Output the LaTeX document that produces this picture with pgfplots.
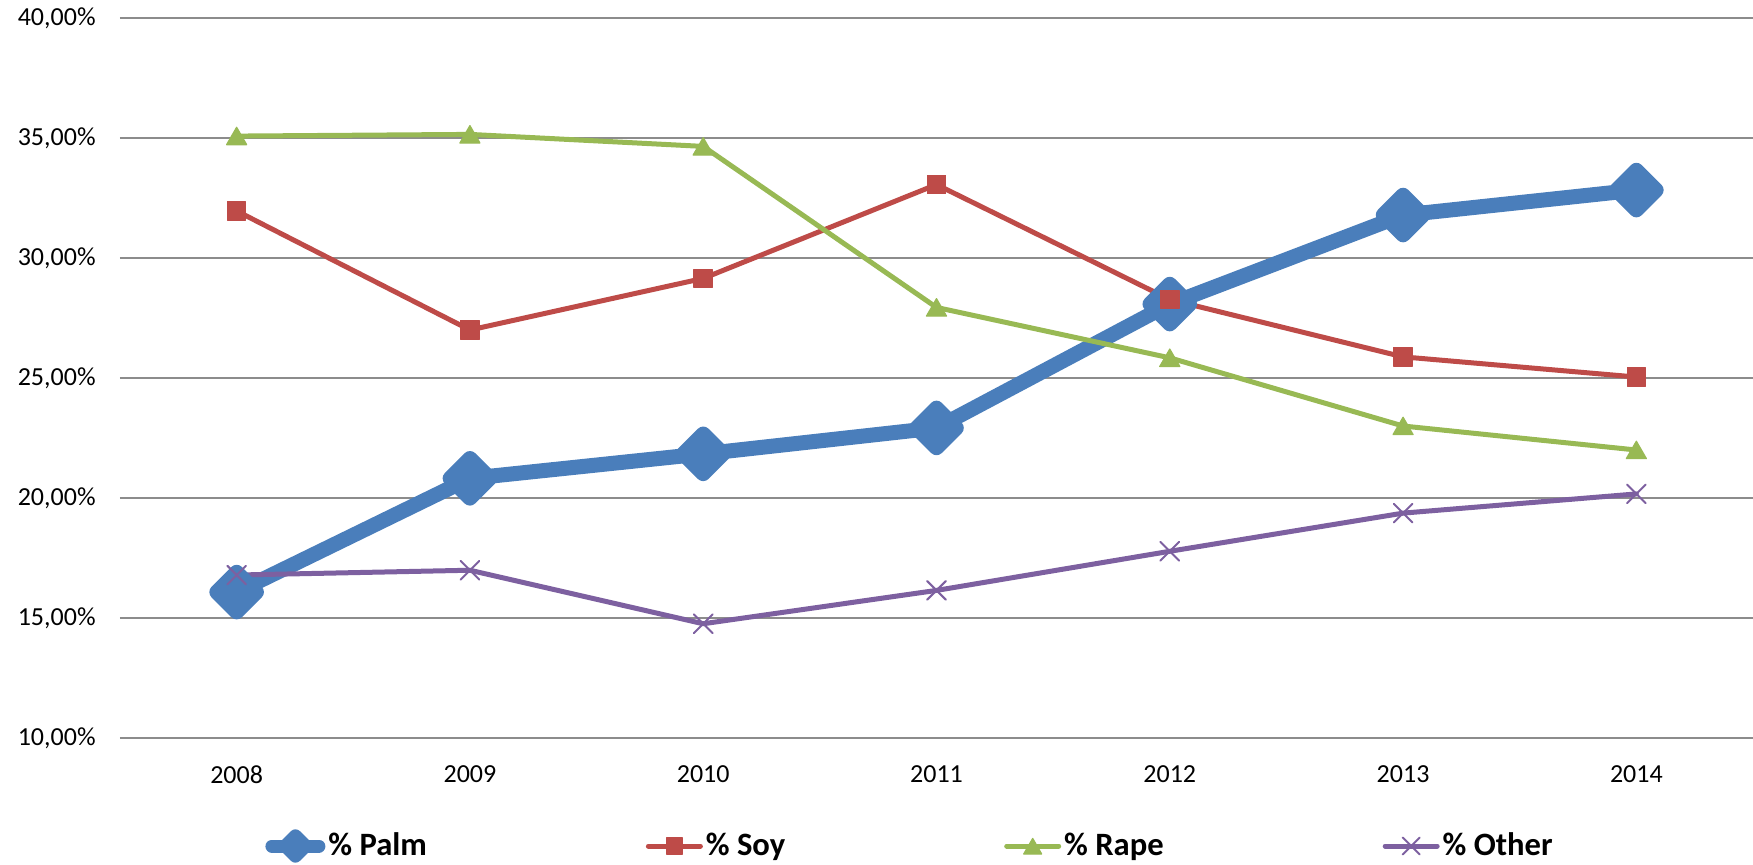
\documentclass[border=0pt]{standalone}
\usepackage{pgfplots}
\pgfplotsset{compat=1.18}
\usepackage{fontspec}
\setmainfont{Carlito}

\definecolor{palm}{HTML}{4A7EBB}
\definecolor{soy}{HTML}{BE4B48}
\definecolor{rape}{HTML}{98B954}
\definecolor{other}{HTML}{7D60A0}
\definecolor{gridgray}{HTML}{8C8C8C}

% legend samples: a short line with the marker in its middle
\pgfplotsset{
  palm legend/.style={legend image code/.code={%
    \draw[mark repeat=2, mark phase=2, ##1, line width=6.5pt, mark size=3.6pt]
      plot coordinates {(3.25pt,0pt) (15pt,0pt) (26.75pt,0pt)};}},
  thin legend/.style={legend image code/.code={%
    \draw[mark repeat=2, mark phase=2, ##1, mark size=#1]
      plot coordinates {(1pt,0pt) (14pt,0pt) (27pt,0pt)};}},
}

% shares per year, 2008 ... 2014 plotted at 0 ... 6
\pgfplotstableread{
x palm  soy   rape  other
0 16.08 31.96 35.08 16.79
1 20.82 27.00 35.15 16.99
2 21.84 29.15 34.65 14.76
3 22.92 33.06 27.94 16.15
4 28.08 28.27 25.84 17.78
5 31.79 25.88 23.00 19.37
6 32.83 25.04 22.00 20.17
}\shares

\begin{document}
\begin{tikzpicture}
\begin{axis}[
  at={(0,0)}, anchor=south west,
  scale only axis, width=816.5pt, height=360pt,
  xmin=-0.5, xmax=6.5, ymin=10, ymax=40,
  xtick={0,1,2,3,4,5,6},
  xticklabels={2008,2009,2010,2011,2012,2013,2014},
  ytick={10,15,20,25,30,35,40},
  yticklabels={{10,00\%},{15,00\%},{20,00\%},{25,00\%},{30,00\%},{35,00\%},{40,00\%}},
  axis line style={draw=none},
  major tick length=0pt,
  ymajorgrids,
  grid style={color=gridgray, line width=1.1pt},
  xticklabel style={anchor=north, inner sep=0pt, yshift=-13.5pt, font=\fontsize{13}{15}\selectfont},
  yticklabel style={anchor=east, inner sep=0pt, xshift=-12pt, font=\fontsize{13}{15}\selectfont},
  clip=false,
  legend columns=4,
  legend style={draw=none, fill=none, inner sep=0pt,
    at={(0.0888,-0.15)}, anchor=west,
    font=\fontsize{16.3}{19}\selectfont\bfseries,
    nodes={inner xsep=1.5pt, inner ysep=0pt},
    /tikz/every even column/.append style={column sep=108pt}},
]
\addplot[color=palm, line width=7.5pt, line join=round, line cap=round,
  mark=square*, mark size=7pt, mark options={rotate=45, fill=palm},
  palm legend]
  table[x=x, y=palm] {\shares};
\addlegendentry{\% Palm}

\addplot[color=soy, line width=2.5pt, line join=round, line cap=round,
  mark=square*, mark size=4.6pt, mark options={solid, line width=0.6pt, fill=soy},
  thin legend=4pt]
  table[x=x, y=soy] {\shares};
\addlegendentry{\% Soy}

\addplot[color=rape, line width=2.5pt, line join=round, line cap=round,
  mark=triangle*, mark size=5.8pt, mark options={solid, line width=0.6pt, fill=rape, yshift=-1.4pt},
  thin legend=5.2pt]
  table[x=x, y=rape] {\shares};
\addlegendentry{\% Rape}

\addplot[color=other, line width=2.5pt, line join=round, line cap=round,
  mark=x, mark size=6.6pt, mark options={solid, line width=1pt},
  thin legend=6pt]
  table[x=x, y=other] {\shares};
\addlegendentry{\% Other}
\end{axis}
\pgfresetboundingbox
\path[use as bounding box] (-60pt,-63pt) rectangle (816.5pt,369pt);
\end{tikzpicture}
\end{document}
